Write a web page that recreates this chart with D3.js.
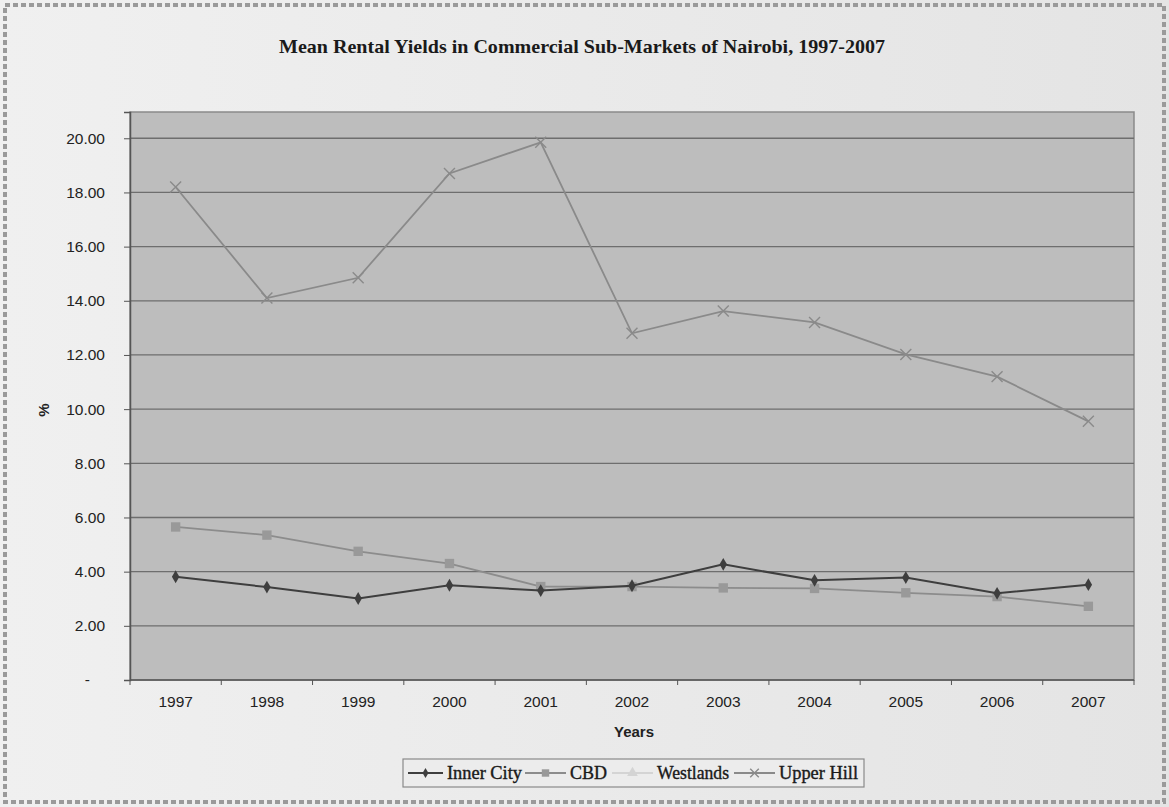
<!DOCTYPE html>
<html>
<head>
<meta charset="utf-8">
<script src="https://cdn.jsdelivr.net/npm/d3@7"></script>
<style>
  body { margin: 0; background: #e9e9e9; }
  svg { display: block; }
</style>
</head>
<body>
<div id="chart"></div>
<script>
// data
const years = ["1997", "1998", "1999", "2000", "2001", "2002", "2003", "2004", "2005", "2006", "2007"];
const innerCity = [3.81, 3.43, 3.01, 3.50, 3.30, 3.48, 4.27, 3.68, 3.78, 3.20, 3.52];
const cbd = [5.65, 5.35, 4.75, 4.30, 3.45, 3.45, 3.40, 3.38, 3.22, 3.08, 2.72];
const westlands = []; // drawn too pale to read in the scan
const upperHill = [18.20, 14.10, 14.85, 18.70, 19.85, 12.80, 13.62, 13.20, 12.02, 11.20, 9.55];
const yTicks = [0, 2, 4, 6, 8, 10, 12, 14, 16, 18, 20];

const series = [
    {name: "Inner City", values: innerCity, color: "#3e3e3e", marker: "diamond"},
    {name: "CBD", values: cbd, color: "#8c8c8c", marker: "square"},
    {name: "Westlands", values: westlands, color: "#d4d4d4", marker: "triangle"},
    {name: "Upper Hill", values: upperHill, color: "#8a8a8a", marker: "cross"}
];

const W = 1169, H = 807;
const margin = {top: 112, right: 35, bottom: 127, left: 130};
const width = W - margin.left - margin.right;
const height = H - margin.top - margin.bottom;

const svg = d3.select("#chart").append("svg")
    .attr("width", W)
    .attr("height", H);

// page background + scan border
const grad = svg.append("defs").append("linearGradient")
    .attr("id", "pageGrad").attr("x1", 0).attr("x2", 1);
grad.append("stop").attr("offset", "0%").attr("stop-color", "#f0f0f0");
grad.append("stop").attr("offset", "100%").attr("stop-color", "#e4e4e4");
svg.append("rect").attr("width", W).attr("height", H).attr("fill", "url(#pageGrad)");
svg.append("rect")
    .attr("x", 5).attr("y", 5).attr("width", W - 10).attr("height", H - 10)
    .attr("fill", "none")
    .attr("stroke", "#9a9a9a")
    .attr("stroke-width", 4)
    .attr("stroke-dasharray", "5,3");

// title
svg.append("text")
    .attr("x", 582).attr("y", 53)
    .attr("text-anchor", "middle")
    .attr("font-family", "Liberation Serif, Times New Roman, serif")
    .attr("font-weight", "bold")
    .attr("font-size", "19px")
    .attr("fill", "#1a1a1a")
    .attr("textLength", 606)
    .attr("lengthAdjust", "spacingAndGlyphs")
    .text("Mean Rental Yields in Commercial Sub-Markets of Nairobi, 1997-2007");

const g = svg.append("g")
    .attr("transform", "translate(" + margin.left + "," + margin.top + ")");

// scales
const x = d3.scaleBand().domain(years).range([0, width]);
const y = d3.scaleLinear().domain([0, 20.97]).range([height, 0]);

// plot area
g.append("rect")
    .attr("width", width).attr("height", height)
    .attr("fill", "#bdbdbd")
    .attr("stroke", "#8a8a8a")
    .attr("stroke-width", 1.5);

// gridlines
g.selectAll(".grid")
    .data(yTicks.filter(d => d > 0))
    .enter().append("line")
    .attr("class", "grid")
    .attr("x1", 0).attr("x2", width)
    .attr("y1", d => y(d)).attr("y2", d => y(d))
    .attr("stroke", "#6e6e6e")
    .attr("stroke-width", 1.3);

// y axis
const yAxis = d3.axisLeft(y)
    .tickValues(yTicks)
    .tickSize(6)
    .tickPadding(19)
    .tickFormat(d => d === 0 ? "-" : d3.format(".2f")(d));
const yG = g.append("g").attr("class", "y-axis").call(yAxis);
yG.select(".domain").attr("stroke", "#555").attr("stroke-width", 1.5);
yG.selectAll(".tick line").attr("stroke", "#555");
yG.selectAll(".tick text")
    .attr("font-family", "Liberation Sans, Arial, sans-serif")
    .attr("font-size", "15.5px")
    .attr("fill", "#222");
yG.selectAll(".tick").filter(d => d === 0).select("text").attr("dx", "-15px");

// x axis (ticks between categories)
const xG = g.append("g").attr("class", "x-axis")
    .attr("transform", "translate(0," + height + ")");
xG.append("line")
    .attr("x1", 0).attr("x2", width)
    .attr("stroke", "#555").attr("stroke-width", 1.5);
xG.selectAll(".xtick")
    .data(years.concat(["end"]))
    .enter().append("line")
    .attr("class", "xtick")
    .attr("x1", (d, i) => i * x.step()).attr("x2", (d, i) => i * x.step())
    .attr("y1", 0).attr("y2", 5)
    .attr("stroke", "#555");
xG.selectAll(".xlab")
    .data(years)
    .enter().append("text")
    .attr("class", "xlab")
    .attr("x", d => x(d) + x.bandwidth() / 2)
    .attr("y", 27)
    .attr("text-anchor", "middle")
    .attr("font-family", "Liberation Sans, Arial, sans-serif")
    .attr("font-size", "15.5px")
    .attr("fill", "#222")
    .text(d => d);

// axis titles
svg.append("text")
    .attr("x", 634).attr("y", 737)
    .attr("text-anchor", "middle")
    .attr("font-family", "Liberation Sans, Arial, sans-serif")
    .attr("font-weight", "bold")
    .attr("font-size", "15px")
    .attr("fill", "#222")
    .text("Years");
svg.append("text")
    .attr("transform", "translate(49,410) rotate(-90)")
    .attr("text-anchor", "middle")
    .attr("font-family", "Liberation Sans, Arial, sans-serif")
    .attr("font-weight", "bold")
    .attr("font-size", "15px")
    .attr("fill", "#222")
    .text("%");

// markers
function drawMarker(sel, type, color, size) {
    if (type === "diamond") {
        sel.append("path").attr("d", d3.symbol(d3.symbolDiamond, size * 6)()).attr("fill", color);
    } else if (type === "square") {
        sel.append("path").attr("d", d3.symbol(d3.symbolSquare, size * 11)()).attr("fill", "#999");
    } else if (type === "triangle") {
        sel.append("path").attr("d", d3.symbol(d3.symbolTriangle, size * 10)()).attr("fill", color);
    } else {
        sel.append("path").attr("d", d3.symbol(d3.symbolX, size * 10)())
            .attr("fill", "none").attr("stroke", color).attr("stroke-width", 1.4);
    }
}

const line = d3.line()
    .x((d, i) => x(years[i]) + x.bandwidth() / 2)
    .y(d => y(d));

// draw Upper Hill / Westlands / CBD first, Inner City on top
[3, 2, 1, 0].forEach(k => {
    const s = series[k];
    if (!s.values.length) return;
    g.append("path")
        .datum(s.values)
        .attr("fill", "none")
        .attr("stroke", s.color)
        .attr("stroke-width", k === 0 ? 2 : 1.8)
        .attr("d", line);
    g.selectAll(".m" + k)
        .data(s.values)
        .enter().append("g")
        .attr("class", "m" + k)
        .attr("transform", (d, i) => "translate(" + (x(years[i]) + x.bandwidth() / 2) + "," + y(d) + ")")
        .each(function () { drawMarker(d3.select(this), s.marker, s.color, 8); });
});

// legend
const lg = svg.append("g").attr("transform", "translate(403,759)");
lg.append("rect")
    .attr("width", 461).attr("height", 28)
    .attr("fill", "#ececec")
    .attr("stroke", "#8a8a8a")
    .attr("stroke-width", 1.2);
const legendLine = [5, 122, 209, 331];
const legendText = [44, 167, 254, 376];
const legendWidth = [75, 37, 72, 79];
series.forEach((s, i) => {
    const item = lg.append("g").attr("transform", "translate(0,14)");
    const len = legendText[i] - legendLine[i] - 4;
    item.append("line")
        .attr("x1", legendLine[i]).attr("x2", legendLine[i] + len)
        .attr("stroke", s.color).attr("stroke-width", 2);
    const m = item.append("g").attr("transform", "translate(" + (legendLine[i] + len / 2) + ",0)");
    drawMarker(m, s.marker, s.color, 5);
    item.append("text")
        .attr("x", legendText[i]).attr("y", 6)
        .attr("font-family", "Liberation Serif, Times New Roman, serif")
        .attr("font-size", "19px")
        .attr("fill", "#1a1a1a")
        .attr("stroke", "#1a1a1a")
        .attr("stroke-width", 0.4)
        .attr("textLength", legendWidth[i])
        .attr("lengthAdjust", "spacingAndGlyphs")
        .text(s.name);
});
</script>
</body>
</html>
